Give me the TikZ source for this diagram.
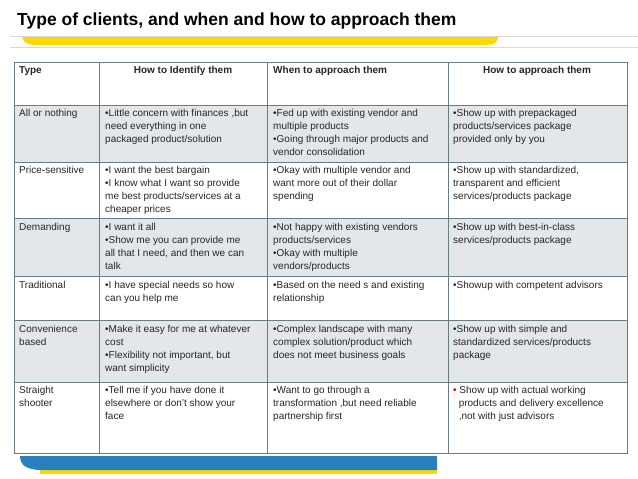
\documentclass[tikz,border=0pt]{standalone}
\usepackage{fontspec}
\setmainfont{Liberation Sans}
\begin{document}
\begin{tikzpicture}[x=1pt,y=-1pt,
  cell/.style={anchor=north west,inner sep=0pt,align=left,font=\fontsize{10}{13}\selectfont,text=black!85},
  hdr/.style={anchor=north,inner sep=0pt,font=\fontsize{10}{13}\selectfont\bfseries,text=black!85},
  grid/.style={draw=black!60!cyan!50!gray,line width=1pt}]
\useasboundingbox (0,0) rectangle (638,479);
% title
\node[anchor=base west,inner sep=0pt,font=\fontsize{17.5}{20}\selectfont\bfseries] (title) at (17,25) {Type of clients, and when and how to approach them};
\draw[black!15,line width=0.6pt] (10,36) -- (638,36) (10,47) -- (638,47);
\fill[yellow!75!orange] (22,37) .. controls (24,44) and (28,45) .. (40,45) -- (485,45) .. controls (495,45) and (498,42) .. (498,37) -- cycle;
% shaded rows
\foreach \a/\b in {105/162,218/276,320/382}{\fill[cyan!10!gray!22] (14,\a) rectangle (627,\b);}
% grid
\draw[grid] (14,62) rectangle (627,453);
\foreach \y in {105,162,218,276,320,382}{\draw[grid] (14,\y) -- (627,\y);}
\foreach \x in {99,267,448}{\draw[grid] (\x,62) -- (\x,453);}
% header
\node[cell,font=\fontsize{10}{13}\selectfont\bfseries] (h1) at (19,66) {Type};
\node[hdr] (h2) at (183,66) {How to Identify them};
\node[cell,font=\fontsize{10}{13}\selectfont\bfseries] (h3) at (273,66) {When to approach them};
\node[hdr] (h4) at (537,66) {How to approach them};
% rows
\node[cell] (a1) at (19,109) {All or nothing};
\node[cell] (a2) at (105,109) {•Little concern with finances ,but\\need everything in one\\packaged product/solution};
\node[cell] (a3) at (273,109) {•Fed up with existing vendor and\\multiple products\\•Going through major products and\\vendor consolidation};
\node[cell] (a4) at (453,109) {•Show up with prepackaged\\products/services package\\provided only by you};
\node[cell] (b1) at (19,166) {Price-sensitive};
\node[cell] (b2) at (105,166) {•I want the best bargain\\•I know what I want so provide\\me best products/services at a\\cheaper prices};
\node[cell] (b3) at (273,166) {•Okay with multiple vendor and\\want more out of their dollar\\spending};
\node[cell] (b4) at (453,166) {•Show up with standardized,\\transparent and efficient\\services/products package};
\node[cell] (c1) at (19,223) {Demanding};
\node[cell] (c2) at (105,223) {•I want it all\\•Show me you can provide me\\all that I need, and then we can\\talk};
\node[cell] (c3) at (273,223) {•Not happy with existing vendors\\products/services\\•Okay with multiple\\vendors/products};
\node[cell] (c4) at (453,223) {•Show up with best-in-class\\services/products package};
\node[cell] (d1) at (19,281) {Traditional};
\node[cell] (d2) at (105,281) {•I have special needs so how\\can you help me};
\node[cell] (d3) at (273,281) {•Based on the need s and existing\\relationship};
\node[cell] (d4) at (453,281) {•Showup with competent advisors};
\node[cell] (e1) at (19,325) {Convenience\\based};
\node[cell] (e2) at (105,325) {•Make it easy for me at whatever\\cost\\•Flexibility not important, but\\want simplicity};
\node[cell] (e3) at (273,325) {•Complex  landscape with many\\complex solution/product which\\does not meet business goals};
\node[cell] (e4) at (453,325) {•Show up with simple and\\standardized services/products\\package};
\node[cell] (f1) at (19,386) {Straight\\shooter};
\node[cell] (f2) at (105,386) {•Tell me if you have done it\\elsewhere or don’t show your\\face};
\node[cell] (f3) at (273,386) {•Want to go through a\\transformation ,but need reliable\\partnership first};
\node[cell] (f4) at (453,386) {\textcolor{red!80!black}{•} Show up with  actual working\\\ \ products and delivery excellence\\\ \ ,not with just advisors};
% bottom band
\fill[yellow!75!orange] (40,466) rectangle (437,474);
\fill[cyan!70!blue!85!black] (20,456) -- (437,456) -- (437,470) -- (42,470) .. controls (28,470) and (20,466) .. (20,456) -- cycle;
\end{tikzpicture}
\end{document}
